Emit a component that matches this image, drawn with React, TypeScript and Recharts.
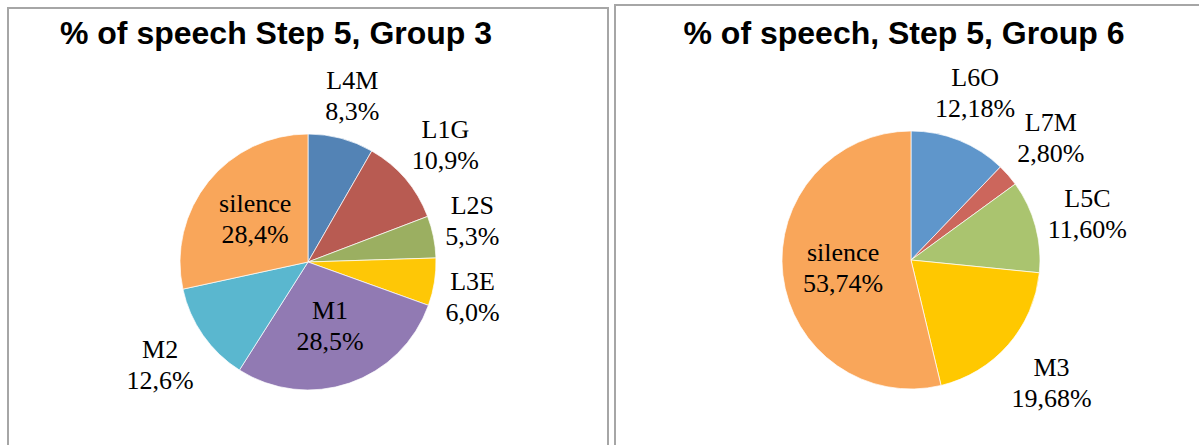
import React from 'react';
import { PieChart, Pie, Cell } from 'recharts';

const group3Names = ['L4M', 'L1G', 'L2S', 'L3E', 'M1', 'M2', 'silence'];
const group3Values = [8.3, 10.9, 5.3, 6.0, 28.5, 12.6, 28.4];
const group3Colors = ['#5383B5', '#B85B52', '#9BAF61', '#FEC706', '#917AB3', '#5AB7CF', '#F9A65A'];

const group6Names = ['L6O', 'L7M', 'L5C', 'M3', 'silence'];
const group6Values = [12.18, 2.8, 11.6, 19.68, 53.74];
const group6Colors = ['#5F96CB', '#CC665C', '#AAC46F', '#FFC800', '#F9A65A'];

const titles = ['% of speech Step 5, Group 3', '% of speech, Step 5, Group 6'];

const group3Data = group3Names.map((name, i) => ({ name, value: group3Values[i] }));
const group6Data = group6Names.map((name, i) => ({ name, value: group6Values[i] }));

const FS = 26;
const LINE = 31;
const GAP = 7;
const PADX = 2;
const PADY = 14;
const RAD = Math.PI / 180;
const SERIF = 'Liberation Serif';
const SANS = 'Liberation Sans';

const charW = (c: string) => (/[0-9]/.test(c) ? 0.5 : c === ',' ? 0.25 : c === '%' ? 0.833 : 0.6);
const fmt = (v: number, dec: number) => v.toFixed(dec).replace('.', ',') + '%';
const textW = (s: string) => Array.from(s).reduce((a, c) => a + charW(c), 0) * FS;

type Box = { x: number; y: number; w: number; h: number; inside: boolean };

// label layout derived from the same slice angles the pie uses (start at 12 o'clock, clockwise)
function layoutLabels(values: number[], dec: number, cx: number, cy: number, r: number): Box[] {
  const total = values.reduce((a, b) => a + b, 0);
  let cum = 0;
  const boxes: Box[] = values.map((v) => {
    const mid = 90 - (360 * (cum + v / 2)) / total;
    cum += v;
    const w = textW(fmt(v, dec));
    const cos = Math.cos(mid * RAD);
    const sin = -Math.sin(mid * RAD);
    const inside = v / total > 0.25;
    const d = inside ? r * 0.53 : r + GAP + (Math.abs(cos) * w) / 2 + Math.abs(sin) * LINE;
    return { x: cx + d * cos, y: cy + d * sin, w, h: 2 * LINE, inside };
  });
  for (let it = 0; it < 20; it++) {
    for (let i = 0; i < boxes.length; i++) {
      for (let j = i + 1; j < boxes.length; j++) {
        const a = boxes[i];
        const b = boxes[j];
        if (a.inside || b.inside) continue;
        const dx = b.x - a.x;
        const dy = b.y - a.y;
        const ox = (a.w + b.w) / 2 + PADX - Math.abs(dx);
        const oy = (a.h + b.h) / 2 + PADY - Math.abs(dy);
        if (ox > 0 && oy > 0) {
          if (ox < oy) {
            const s = dx >= 0 ? 1 : -1;
            a.x -= (s * ox) / 2;
            b.x += (s * ox) / 2;
          } else {
            const s = dy >= 0 ? 1 : -1;
            a.y -= (s * oy) / 2;
            b.y += (s * oy) / 2;
          }
        }
      }
    }
  }
  return boxes;
}

function makeLabel(values: number[], dec: number) {
  return (props: any) => {
    const { cx, cy, outerRadius, value, index } = props;
    const name = props.payload?.name ?? props.name;
    const pct = fmt(Number(value), dec);
    const b = layoutLabels(values, dec, cx, cy, outerRadius)[index];
    return (
      <g>
        <text x={b.x} y={b.y - LINE / 2} textAnchor="middle" dominantBaseline="central" fontFamily={SERIF} fontSize={FS} fill="#000">{name}</text>
        <text x={b.x} y={b.y + LINE / 2} textAnchor="middle" dominantBaseline="central" fontFamily={SERIF} fontSize={FS} fill="#000">{pct}</text>
      </g>
    );
  };
}

const borderColor = '#A6A6A6';
const noMargin = { top: 0, right: 0, bottom: 0, left: 0 };

export default function App() {
  return (
    <div style={{ position: 'fixed', left: 0, top: 0, width: 1199, height: 445, overflow: 'hidden', background: '#fff' }}>
      <div style={{ position: 'absolute', left: 7, top: 7, width: 602, height: 460, boxSizing: 'border-box', border: `2px solid ${borderColor}` }} />
      <div style={{ position: 'absolute', left: 614, top: 4, width: 620, height: 460, boxSizing: 'border-box', border: `2px solid ${borderColor}` }} />
      <div style={{ position: 'absolute', left: 0, top: 0 }}>
        <PieChart width={1199} height={445} margin={noMargin}>
          <Pie
            data={group3Data}
            dataKey="value"
            nameKey="name"
            cx={308}
            cy={262}
            outerRadius={128}
            startAngle={90}
            endAngle={-270}
            stroke="#ffffff"
            strokeWidth={0.7}
            isAnimationActive={false}
            labelLine={false}
            label={makeLabel(group3Values, 1)}
          >
            {group3Data.map((d, i) => (
              <Cell key={d.name} fill={group3Colors[i]} />
            ))}
          </Pie>
          <Pie
            data={group6Data}
            dataKey="value"
            nameKey="name"
            cx={911}
            cy={260}
            outerRadius={129}
            startAngle={90}
            endAngle={-270}
            stroke="#ffffff"
            strokeWidth={0.7}
            isAnimationActive={false}
            labelLine={false}
            label={makeLabel(group6Values, 2)}
          >
            {group6Data.map((d, i) => (
              <Cell key={d.name} fill={group6Colors[i]} />
            ))}
          </Pie>
        </PieChart>
      </div>
      <div style={{ position: 'absolute', left: 0, width: 552, top: 17, fontFamily: SANS, fontWeight: 'bold', fontSize: 32, lineHeight: '32px', textAlign: 'center', color: '#000', whiteSpace: 'nowrap' }}>
        {titles[0]}
      </div>
      <div style={{ position: 'absolute', left: 604, width: 600, top: 17, fontFamily: SANS, fontWeight: 'bold', fontSize: 32, lineHeight: '32px', textAlign: 'center', color: '#000', whiteSpace: 'nowrap' }}>
        {titles[1]}
      </div>
    </div>
  );
}
